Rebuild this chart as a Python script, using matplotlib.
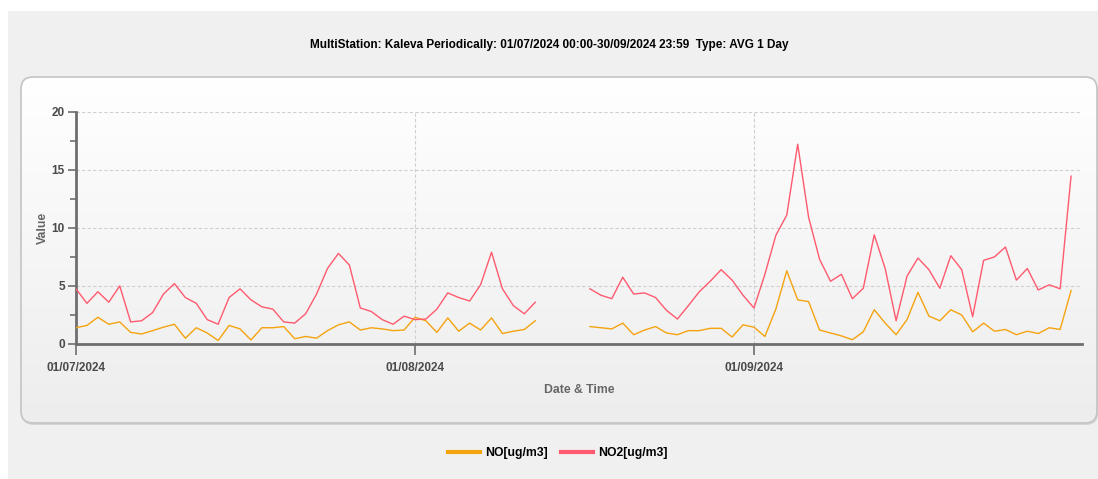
import numpy as np
import pandas as pd
import matplotlib
matplotlib.use("Agg")
import matplotlib.pyplot as plt
import matplotlib.dates as mdates
from matplotlib.patches import FancyBboxPatch, Rectangle
from matplotlib.lines import Line2D

# --------------------------------------------------------------
# Data (daily averages, 01/07/2024 - 30/09/2024)
# --------------------------------------------------------------

no_jul = [1.4, 1.6, 2.3, 1.7, 1.9, 1.0, 0.86, 1.15, 1.45, 1.7, 0.5, 1.4, 0.95, 0.3, 1.6, 1.3,
          0.35, 1.4, 1.4, 1.5, 0.45, 0.65, 0.5, 1.15, 1.65, 1.9, 1.2, 1.4, 1.3, 1.15, 1.2]
no2_jul = [4.75, 3.5, 4.5, 3.6, 5.0, 1.9, 2.0, 2.7, 4.3, 5.2, 4.0, 3.5, 2.1, 1.7, 4.0, 4.75,
           3.8, 3.2, 3.0, 1.9, 1.8, 2.6, 4.3, 6.5, 7.8, 6.8, 3.1, 2.8, 2.1, 1.7, 2.4]

nan = np.nan
no_aug = [2.3, 2.0, 1.0, 2.25, 1.1, 1.8, 1.2, 2.25, 0.9, 1.1, 1.25, 2.0, nan, nan, nan, nan,
          1.5, 1.4, 1.3, 1.8, 0.8, 1.2, 1.5, 0.95, 0.8, 1.15, 1.15, 1.35, 1.35, 0.6, 1.65]
no2_aug = [2.1, 2.15, 3.0, 4.4, 4.0, 3.7, 5.1, 7.9, 4.75, 3.3, 2.6, 3.6, nan, nan, nan, nan,
           4.75, 4.2, 3.9, 5.75, 4.3, 4.4, 4.0, 2.9, 2.15, 3.3, 4.5, 5.4, 6.4, 5.5, 4.2]

no_sep = [1.45, 0.65, 3.0, 6.3, 3.8, 3.65, 1.2, 0.95, 0.7, 0.37, 1.05, 2.95, 1.8, 0.8, 2.1,
          4.45, 2.4, 2.0, 2.95, 2.5, 1.05, 1.8, 1.1, 1.25, 0.8, 1.1, 0.9, 1.4, 1.25, 4.6]
no2_sep = [3.1, 6.0, 9.35, 11.1, 17.2, 10.9, 7.3, 5.4, 6.0, 3.9, 4.8, 9.4, 6.5, 2.0, 5.85,
           7.4, 6.4, 4.8, 7.6, 6.4, 2.35, 7.2, 7.5, 8.35, 5.5, 6.5, 4.65, 5.1, 4.75, 14.45]

dates = pd.date_range("2024-07-01", "2024-09-30", freq="D")
df = pd.DataFrame({"NO": no_jul + no_aug + no_sep,
                   "NO2": no2_jul + no2_aug + no2_sep}, index=dates)

tick_dates = pd.to_datetime(["2024-07-01", "2024-08-01", "2024-09-01"])
title = "MultiStation: Kaleva Periodically: 01/07/2024 00:00-30/09/2024 23:59  Type: AVG 1 Day"
c_no = "#f5a30f"
c_no2 = "#ff5a6e"

# --------------------------------------------------------------
# Figure and background panel
# --------------------------------------------------------------

W, H = 1098, 479
fig = plt.figure(figsize=(W / 100, H / 100), dpi=100)
fig.patch.set_facecolor("white")
font = ["Liberation Sans", "DejaVu Sans"]

bg = fig.add_axes([0, 0, 1, 1], zorder=-1)
bg.set_xlim(0, W)
bg.set_ylim(H, 0)
bg.axis("off")
bg.add_patch(Rectangle((8, 11), W - 8, H - 11, facecolor="#f0f0f0", edgecolor="none"))

shadow = FancyBboxPatch((22, 79), 1076, 346, boxstyle="round,pad=0,rounding_size=12",
                        facecolor="#d4d4d4", edgecolor="none")
bg.add_patch(shadow)
panel = FancyBboxPatch((21, 77), 1076, 346, boxstyle="round,pad=0,rounding_size=12",
                       facecolor="none", edgecolor="#c4c4c4", linewidth=1.2)
bg.add_patch(panel)
grad = np.linspace(0, 1, 256).reshape(-1, 1)
img = bg.imshow(grad, extent=(21, 1097, 423, 77), cmap=matplotlib.colors.LinearSegmentedColormap.from_list(
    "g", ["#ffffff", "#ededed"]), aspect="auto", zorder=1)
img.set_clip_path(panel)
panel.set_zorder(2)

# --------------------------------------------------------------
# Main plot
# --------------------------------------------------------------

ax = fig.add_axes([76 / W, 1 - 344 / H, (1082 - 76) / W, (344 - 111.7) / H])
ax.set_facecolor("none")
ax.plot(df.index, df["NO"], color=c_no, lw=1.0, zorder=3)
ax.plot(df.index, df["NO2"], color=c_no2, lw=1.0, zorder=3)

ax.set_xlim(pd.Timestamp("2024-07-01"), pd.Timestamp("2024-10-01"))
ax.set_ylim(0, 20)
ax.set_yticks([0, 5, 10, 15, 20])
ax.set_yticks([2.5, 7.5, 12.5, 17.5], minor=True)
ax.set_xticks(tick_dates)
ax.xaxis.set_major_formatter(mdates.DateFormatter("%d/%m/%Y"))

ax.grid(True, which="major", color="#cfcfcf", linestyle=(0, (3, 2)), linewidth=0.8, zorder=0)
for s in ["top", "right"]:
    ax.spines[s].set_visible(False)
for s in ["left", "bottom"]:
    ax.spines[s].set_color("#6e6e6e")
    ax.spines[s].set_linewidth(2.0)

ax.tick_params(axis="y", which="major", length=6, width=1.2, color="#6e6e6e", pad=2,
               labelsize=8.5, labelcolor="#4a4a4a")
ax.tick_params(axis="y", which="minor", length=4, width=1.2, color="#6e6e6e")
ax.tick_params(axis="x", which="major", length=8, width=1.2, color="#6e6e6e", pad=5,
               labelsize=8.5, labelcolor="#4a4a4a")
for lab in ax.get_xticklabels() + ax.get_yticklabels():
    lab.set_family(font)
    lab.set_fontweight("bold")

ax.set_xlabel("Date & Time", family=font, fontweight="bold", fontsize=8.8, color="#666666",
              ha="center", va="center")
ax.set_ylabel("Value", family=font, fontweight="bold", fontsize=8.8, color="#666666",
              ha="center", va="center")
ax.xaxis.set_label_coords(0.5, (344 - 390) / 232.3)
ax.yaxis.set_label_coords((43 - 76) / 1006, 0.5)

fig.text(0.5, 1 - 45 / H, title, ha="center", va="center", family=font,
         fontweight="bold", fontsize=8.5, color="black")

handles = [Line2D([], [], color=c_no, lw=3), Line2D([], [], color=c_no2, lw=3)]
fig.legend(handles, ["NO[ug/m3]", "NO2[ug/m3]"], loc="center", bbox_to_anchor=(558 / W, 1 - 453 / H),
           ncol=2, frameon=False, handlelength=2.6, handletextpad=0.4, columnspacing=1.1,
           prop={"family": font, "weight": "bold", "size": 8.8})

fig.savefig("out.png", dpi=100, facecolor=fig.get_facecolor())
